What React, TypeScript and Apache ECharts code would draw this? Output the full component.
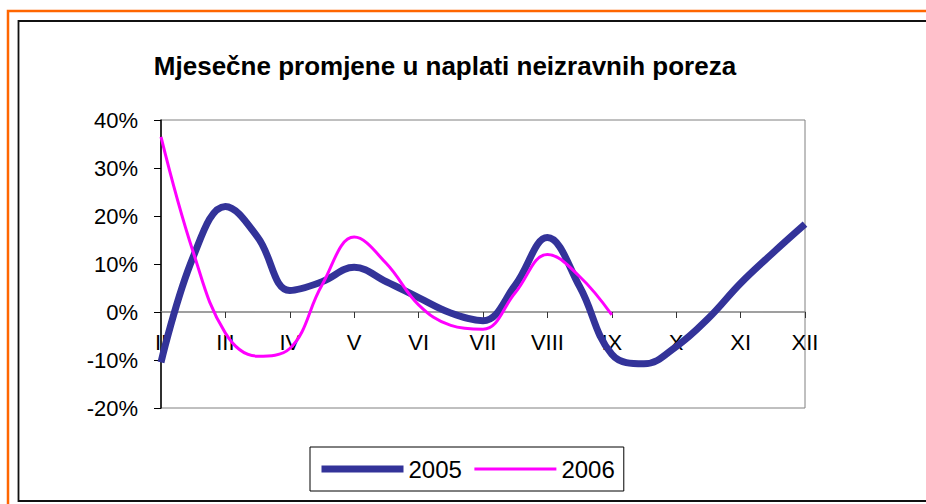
import React, { useEffect, useRef } from "react";
import * as echarts from "echarts";

// month labels (II .. XII); the data is read at half-month steps
const months = ["II", "III", "IV", "V", "VI", "VII", "VIII", "IX", "X", "XI", "XII"];
const values2005 = [
  -10.5, 11.5, 22, 15.6, 4.5, 6.3, 9.3, 6.3, 3, -0.2, -1.8,
  5.6, 15.5, 5.3, -8.8, -10.8, -7.2, -1.3, 6, 12.3, 18.3,
];
const values2006 = [
  36.5, 12.5, -4.4, -9.2, -7.6, 5.6, 15.6, 10.1, 1.5, -2.8, -3.6,
  4, 12, 7.4, -0.6, null, null, null, null, null, null,
];
const yTicks = { min: -20, max: 40, interval: 10 };
const titleText = "Mjesečne promjene u naplati neizravnih poreza";
const seriesNames = ["2005", "2006"];

const FONT = "'Liberation Sans', Arial, sans-serif";

const categories: string[] = [];
months.forEach((m, i) => {
  categories.push(m);
  if (i < months.length - 1) categories.push("");
});

export default function App() {
  const ref = useRef<HTMLDivElement>(null);
  useEffect(() => {
    if (!ref.current) return;
    const chart = echarts.init(ref.current, null, { renderer: "svg" });
    chart.setOption({
      animation: false,
      backgroundColor: "#ffffff",
      textStyle: { fontFamily: FONT },
      graphic: [
        {
          type: "rect",
          shape: { x: 8, y: 11, width: 1000, height: 600 },
          style: { fill: "none", stroke: "#FF6600", lineWidth: 2.5 },
          silent: true,
        },
        {
          type: "rect",
          shape: { x: 18.5, y: 21, width: 1000, height: 480 },
          style: { fill: "none", stroke: "#111111", lineWidth: 1.8 },
          silent: true,
        },
        {
          type: "text",
          x: 445,
          y: 66,
          style: {
            text: titleText,
            fontFamily: FONT,
            fontWeight: "bold",
            fontSize: 26,
            fill: "#000",
            textAlign: "center",
            textVerticalAlign: "middle",
          },
        },
      ],
      grid: {
        left: 161,
        right: 121,
        top: 120,
        bottom: 96,
        show: true,
        borderColor: "#808080",
        borderWidth: 1,
        backgroundColor: "transparent",
      },
      legend: {
        left: 310,
        top: 447,
        orient: "horizontal",
        data: seriesNames,
        borderColor: "#000",
        borderWidth: 1,
        padding: [10, 9, 10, 8],
        itemWidth: 82,
        itemHeight: 14,
        itemGap: 11,
        itemStyle: { opacity: 0, color: "rgba(0,0,0,0)", borderWidth: 0 },
        lineStyle: { width: "inherit" },
        textStyle: { fontSize: 24, color: "#000", fontFamily: FONT },
      },
      xAxis: {
        type: "category",
        data: categories,
        boundaryGap: false,
        axisLine: { onZero: true, lineStyle: { color: "#808080", width: 1.5 } },
        axisTick: { show: true, length: 6, inside: false, interval: 1, lineStyle: { color: "#333" } },
        axisLabel: { fontSize: 22, color: "#000", margin: -77, interval: 1, fontFamily: FONT },
        splitLine: { show: false },
      },
      yAxis: {
        type: "value",
        min: yTicks.min,
        max: yTicks.max,
        interval: yTicks.interval,
        axisLine: { show: true, lineStyle: { color: "#000", width: 1.5 } },
        axisTick: { show: true, length: 7, lineStyle: { color: "#000" } },
        axisLabel: { fontSize: 22, color: "#000", margin: 23, formatter: "{value}%", fontFamily: FONT },
        splitLine: { show: false },
      },
      series: [
        {
          name: seriesNames[0],
          type: "line",
          data: values2005,
          smooth: 0.4,
          symbol: "none",
          lineStyle: { color: "#333399", width: 7 },
          itemStyle: { color: "#333399" },
          z: 2,
        },
        {
          name: seriesNames[1],
          type: "line",
          data: values2006,
          smooth: 0.4,
          symbol: "none",
          connectNulls: false,
          lineStyle: { color: "#FF00FF", width: 3 },
          itemStyle: { color: "#FF00FF" },
          z: 3,
        },
      ],
    });
    return () => chart.dispose();
  }, []);
  return (
    <div
      ref={ref}
      style={{ position: "fixed", left: 0, top: 0, width: 926, height: 504 }}
    />
  );
}
